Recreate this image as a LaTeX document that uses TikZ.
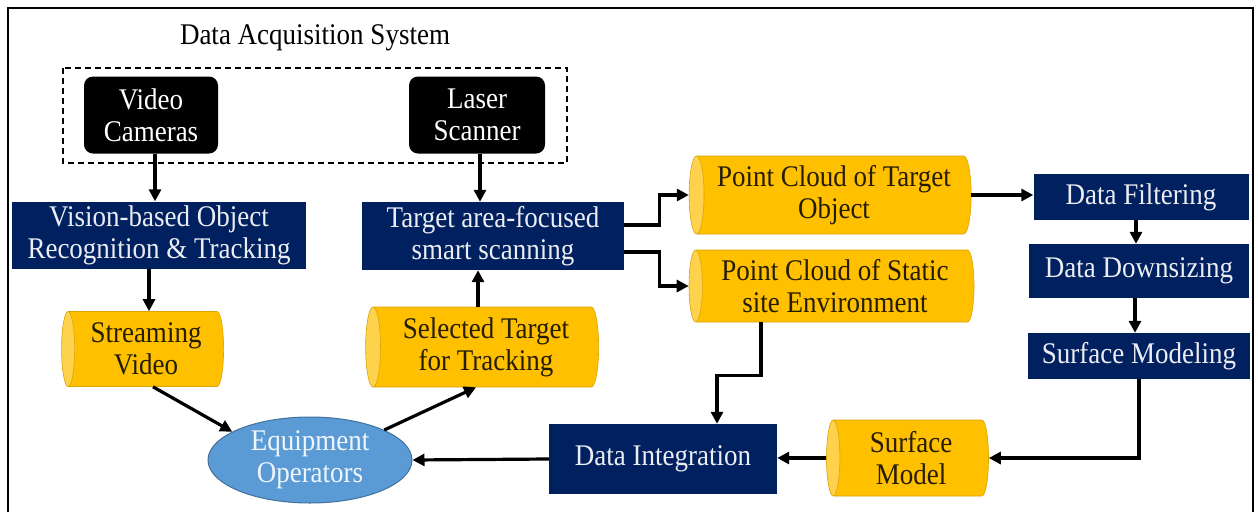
\documentclass[tikz,border=0pt]{standalone}
\usepackage{fontspec}
\setmainfont{Liberation Serif}[FakeStretch=0.9]
\usetikzlibrary{shapes.geometric,arrows.meta}
\definecolor{navy}{HTML}{002060}
\definecolor{gold}{HTML}{FFC000}
\definecolor{goldlight}{HTML}{FFD24D}
\definecolor{skyb}{HTML}{5B9BD5}
\definecolor{skyedge}{HTML}{41719C}
\begin{document}
\begin{tikzpicture}[x=1pt,y=-1pt,
 every node/.style={font=\fontsize{30}{32}\selectfont, align=center},
 navybox/.style={rectangle, fill=navy, text=white!92!navy, inner sep=0pt},
 blackbox/.style={rectangle, fill=black, text=white, rounded corners=9pt, inner sep=0pt},
 cyl/.style={cylinder, shape border rotate=180, aspect=0.25, draw=gold!85!black, line width=0.6pt,
   cylinder uses custom fill, cylinder body fill=gold, cylinder end fill=goldlight, inner sep=0pt, text=black!85!gold},
 arr/.style={line width=3.2pt, -{Triangle[length=12pt,width=12pt]}},
]
\useasboundingbox (0,0) rectangle (1258,512);
\draw[line width=2.5pt] (8,512) -- (8,8) -- (1253,8) -- (1253,512);

\node (title) at (315,38) {Data Acquisition System};
\draw[line width=1.2pt, dash pattern=on 6pt off 4pt] (63,68) rectangle (567,163);

\node[blackbox, minimum width=134pt, minimum height=77pt] (vc) at (151,115) {Video\\Cameras};
\node[blackbox, minimum width=136pt, minimum height=77pt] (ls) at (477,115) {Laser\\Scanner};

\node[navybox, minimum width=294pt, minimum height=67pt] (vis) at (159,235) {Vision-based Object\\Recognition \& Tracking};
\node[navybox, minimum width=262pt, minimum height=68pt] (tgt) at (493,236) {Target area-focused\\smart scanning};

\node[cyl, minimum height=162pt, minimum width=75pt] (sv) at (146,349) {Streaming\\Video};
\node[cyl, minimum height=233pt, minimum width=80pt] (st) at (486,347) {Selected Target\\for Tracking};

\node[ellipse, fill=skyb, draw=skyedge, line width=1pt, text=white!90!skyb, minimum width=204pt, minimum height=86pt, inner sep=0pt] (eo) at (310,460) {Equipment\\Operators};

\node[navybox, minimum width=228pt, minimum height=70pt] (di) at (663,459) {Data Integration};

\node[cyl, minimum height=282pt, minimum width=78pt] (pct) at (834,195) {Point Cloud of Target\\Object};
\node[cyl, minimum height=285pt, minimum width=72pt] (pcs) at (835,286) {Point Cloud of Static\\site Environment};
\node[cyl, minimum height=162pt, minimum width=76pt] (smo) at (911,458) {Surface\\Model};

\node[navybox, minimum width=215pt, minimum height=46pt] (df) at (1141,197) {Data Filtering};
\node[navybox, minimum width=220pt, minimum height=54pt] (dd) at (1139,271) {Data Downsizing};
\node[navybox, minimum width=222pt, minimum height=46pt] (sm) at (1139,356) {Surface Modeling};

\draw[arr] ([xshift=4pt]vc.south) -- ([xshift=4pt]vc.south |- vis.north);
\draw[arr] ([xshift=3pt]ls.south) -- ([xshift=3pt]ls.south |- tgt.north);
\draw[arr] ([xshift=3pt]sv.north |- vis.south) -- ([xshift=3pt]sv.north);
\draw[arr] ([xshift=-8pt]st.north) -- ([xshift=-8pt]st.north |- tgt.south);
\draw[arr] ([xshift=7pt]sv.south) -- (eo.160);
\draw[arr] (eo.22) -- ([xshift=-10pt]st.south);
\draw[arr] (di.west) -- (eo.east);
\draw[arr] ([yshift=11pt]tgt.east) -- ++(35,0) |- (pct.west);
\draw[arr] ([yshift=-16pt]tgt.east) -- ++(35,0) |- (pcs.west);
\draw[arr] (pct.east) -- (pct.east -| df.west);
\draw[arr] ([xshift=-5pt]df.south) -- ([xshift=-5pt]df.south |- dd.north);
\draw[arr] ([xshift=-4pt]dd.south) -- ([xshift=-4pt]dd.south |- sm.north);
\draw[arr] (sm.south) |- (smo.east);
\draw[arr] (smo.west) -- (smo.west -| di.east);
\draw[arr] ([xshift=-74pt]pcs.south) -- ++(0,53) -| ([xshift=54pt]di.north);
\end{tikzpicture}
\end{document}
